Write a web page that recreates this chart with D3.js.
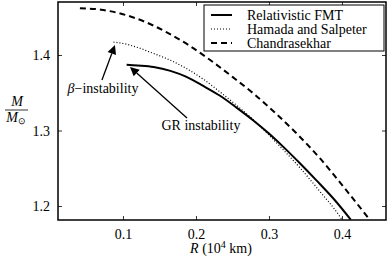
<!DOCTYPE html>
<html>
<head>
<meta charset="utf-8">
<script src="https://cdn.jsdelivr.net/npm/d3@7"></script>
</head>
<body style="margin:0">
<div id="chart"></div>
<script>
// radius in 10^4 km, mass in solar masses
const fmtR = [0.105, 0.12, 0.142, 0.165, 0.187, 0.21, 0.233, 0.256, 0.279, 0.3, 0.32, 0.343, 0.365, 0.39, 0.412];
const fmtM = [1.387, 1.386, 1.384, 1.379, 1.371, 1.359, 1.346, 1.330, 1.313, 1.296, 1.278, 1.256, 1.234, 1.208, 1.182];

const hsR = [0.087, 0.096, 0.12, 0.142, 0.165, 0.187, 0.21, 0.233, 0.256, 0.28, 0.3, 0.32, 0.343, 0.37, 0.395, 0.40];
const hsM = [1.417, 1.416, 1.410, 1.402, 1.393, 1.382, 1.368, 1.351, 1.333, 1.313, 1.294, 1.274, 1.250, 1.219, 1.189, 1.182];

const chR = [0.041, 0.07, 0.1, 0.13, 0.16, 0.19, 0.22, 0.25, 0.28, 0.31, 0.34, 0.37, 0.40, 0.437];
const chM = [1.462, 1.460, 1.454, 1.444, 1.430, 1.413, 1.393, 1.371, 1.348, 1.322, 1.294, 1.263, 1.228, 1.183];

const xTicks = [0.1, 0.2, 0.3, 0.4];
const yTicks = [1.2, 1.3, 1.4];

const seriesNames = ["Relativistic FMT", "Hamada and Salpeter", "Chandrasekhar"];

const width = 391, height = 259;
const margin = { top: 2, right: 5, bottom: 39, left: 58 };
const w = width - margin.left - margin.right;
const h = height - margin.top - margin.bottom;
const fontSize = "14px";

const x = d3.scaleLinear().domain([0.011, 0.4603]).range([0, w]);
const y = d3.scaleLinear().domain([1.1815, 1.4702]).range([h, 0]);

const svg = d3.select("#chart").append("svg")
  .attr("width", width)
  .attr("height", height);

svg.append("defs").append("clipPath").attr("id", "clip")
  .append("rect").attr("width", w).attr("height", h);

const g = svg.append("g")
  .attr("transform", "translate(" + margin.left + "," + margin.top + ")");

// ticks pointing inwards on all four sides
g.append("g")
  .attr("transform", "translate(0," + h + ")")
  .call(d3.axisBottom(x).tickValues(xTicks).tickSize(-4).tickPadding(9).tickFormat(d3.format(".1f")))
  .call(a => a.select(".domain").remove());
g.append("g")
  .call(d3.axisTop(x).tickValues(xTicks).tickSize(-4).tickFormat(""))
  .call(a => a.select(".domain").remove());
g.append("g")
  .call(d3.axisLeft(y).tickValues(yTicks).tickSize(-4).tickPadding(8).tickFormat(d3.format(".1f")))
  .call(a => a.select(".domain").remove());
g.append("g")
  .attr("transform", "translate(" + w + ",0)")
  .call(d3.axisRight(y).tickValues(yTicks).tickSize(-4).tickFormat(""))
  .call(a => a.select(".domain").remove());
g.selectAll(".tick line").attr("stroke", "#000").attr("stroke-width", 0.8);
g.selectAll(".tick text").attr("fill", "#000");
// drop the sans-serif default the axis puts on its group
g.selectAll("g").attr("font-family", null).attr("font-size", null);

const line = d3.line().x(d => x(d[0])).y(d => y(d[1])).curve(d3.curveMonotoneX);
const curves = g.append("g").attr("clip-path", "url(#clip)");

const styles = [
  { width: 2, dash: null },
  { width: 1.2, dash: "1,2" },
  { width: 2, dash: "6,4" }
];
const series = [
  fmtR.map((r, i) => [r, fmtM[i]]),
  hsR.map((r, i) => [r, hsM[i]]),
  chR.map((r, i) => [r, chM[i]])
];
series.forEach((s, i) => {
  curves.append("path")
    .datum(s)
    .attr("d", line)
    .attr("fill", "none")
    .attr("stroke", "#000")
    .attr("stroke-width", styles[i].width)
    .attr("stroke-dasharray", styles[i].dash);
});

// annotations in data coordinates
const annotations = [
  { label: "instability", greek: "β−", tail: [0.0712, 1.367], tip: [0.089, 1.4132], at: [0.0726, 1.3497] },
  { label: "GR instability", greek: "", tail: [0.1877, 1.3166], tip: [0.1096, 1.3841], at: [0.2068, 1.3007] }
];
annotations.forEach(a => {
  const x0 = x(a.tail[0]), y0 = y(a.tail[1]);
  const x1 = x(a.tip[0]), y1 = y(a.tip[1]);
  const len = Math.hypot(x1 - x0, y1 - y0);
  const ux = (x1 - x0) / len, uy = (y1 - y0) / len;
  const hl = 9, hw = 4.5;
  const bx = x1 - ux * hl, by = y1 - uy * hl;
  g.append("line")
    .attr("x1", x0).attr("y1", y0).attr("x2", bx).attr("y2", by)
    .attr("stroke", "#000").attr("stroke-width", 1.3);
  g.append("path")
    .attr("d", "M" + x1 + "," + y1 +
      "L" + (bx - uy * hw) + "," + (by + ux * hw) +
      "L" + (bx + uy * hw) + "," + (by - ux * hw) + "Z")
    .attr("fill", "#000");
  const t = g.append("text")
    .attr("x", x(a.at[0])).attr("y", y(a.at[1]))
    .attr("text-anchor", "middle");
  if (a.greek) {
    t.append("tspan").attr("font-style", "italic").text("β");
    t.append("tspan").text("−");
  }
  t.append("tspan").text(a.label);
});

// frame
g.append("rect")
  .attr("width", w).attr("height", h)
  .attr("fill", "none").attr("stroke", "#000").attr("stroke-width", 1.5);

// legend
const legend = g.append("g").attr("transform", "translate(" + (204 - margin.left) + "," + (5 - margin.top) + ")");
legend.append("rect")
  .attr("width", 180).attr("height", 46)
  .attr("fill", "#fff").attr("stroke", "#000").attr("stroke-width", 1);
seriesNames.forEach((name, i) => {
  const ly = 10 + i * 14;
  legend.append("line")
    .attr("x1", 7).attr("x2", 28).attr("y1", ly).attr("y2", ly)
    .attr("stroke", "#000")
    .attr("stroke-width", styles[i].width)
    .attr("stroke-dasharray", styles[i].dash);
  legend.append("text")
    .attr("x", 43).attr("y", ly + 4.5)
    .text(name);
});

// axis labels
const xl = svg.append("text")
  .attr("x", 221).attr("y", 253)
  .attr("text-anchor", "middle");
xl.append("tspan").attr("font-style", "italic").text("R");
xl.append("tspan").text(" (10");
xl.append("tspan").attr("dy", -5).attr("font-size", "10px").text("4");
xl.append("tspan").attr("dy", 5).text(" km)");

svg.append("text")
  .attr("x", 17).attr("y", 106)
  .attr("text-anchor", "middle")
  .attr("font-style", "italic")
  .text("M");
svg.append("line")
  .attr("x1", 5).attr("x2", 28).attr("y1", 110).attr("y2", 110)
  .attr("stroke", "#000").attr("stroke-width", 0.8);
const yl = svg.append("text")
  .attr("x", 16).attr("y", 122)
  .attr("text-anchor", "middle");
yl.append("tspan").attr("font-style", "italic").text("M");
yl.append("tspan").attr("dy", 2).attr("font-size", "9px").text("⊙");

// one serif font for every text element
svg.selectAll("text")
  .attr("font-family", "Liberation Serif")
  .attr("font-size", fontSize);
</script>
</body>
</html>
